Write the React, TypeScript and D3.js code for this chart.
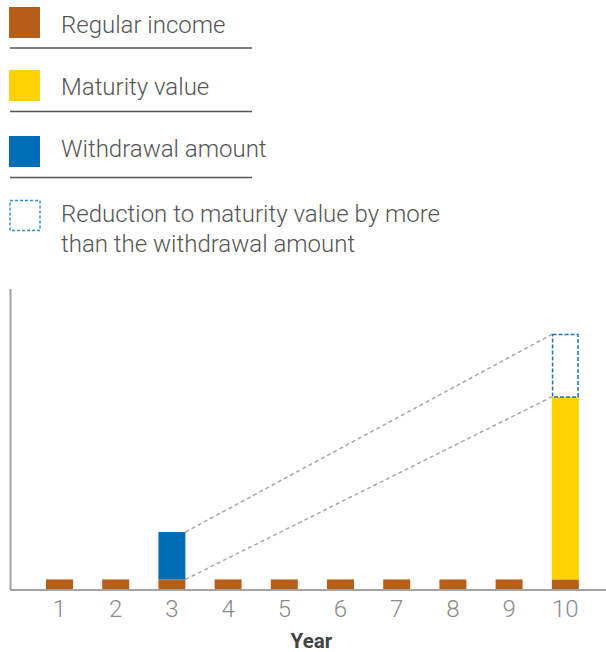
import React from "react";
import * as d3 from "d3";

const W = 606;
const H = 652;

// chart data
const years = ["1", "2", "3", "4", "5", "6", "7", "8", "9", "10"];
const regularIncome = [1, 1, 1, 1, 1, 1, 1, 1, 1, 1];
const withdrawal = [0, 0, 4.7, 0, 0, 0, 0, 0, 0, 0];
const maturityValue = [0, 0, 0, 0, 0, 0, 0, 0, 0, 18.1];
const reduction = [0, 0, 0, 0, 0, 0, 0, 0, 0, 6.2];

const legendItems = [
  { label: ["Regular income"], color: "#B55E18", dashed: false },
  { label: ["Maturity value"], color: "#FFD200", dashed: false },
  { label: ["Withdrawal amount"], color: "#006EB6", dashed: false },
  {
    label: ["Reduction to maturity value by more", "than the withdrawal amount"],
    color: "#3b8fd0",
    dashed: true,
  },
];

const COLORS = {
  income: "#B55E18",
  maturity: "#FFD200",
  withdrawal: "#006EB6",
  reduction: "#1a74bd",
  guide: "#a8a8a8",
  axis: "#a3a3a3",
  text: "#555555",
  tick: "#8a8a8a",
};

const font = "Roboto, 'Noto Sans', sans-serif";

// legend layout: square top, text baseline, separator
const legendRows = [
  { top: 7, base: 33, sep: 48 },
  { top: 70, base: 95, sep: 111.5 },
  { top: 136, base: 157, sep: 177.5 },
  { top: 200, base: 221.5, sep: null },
];

const App = () => {
  const x = d3
    .scaleBand()
    .domain(years)
    .range([31.4, 593.4])
    .paddingInner(0.52)
    .paddingOuter(0.26);
  const y = d3.scaleLinear().domain([0, 30]).range([589.5, 287]);
  const bw = x.bandwidth();

  // stacked tops
  const stack = years.map((yr, i) => {
    const a = regularIncome[i];
    const b = a + withdrawal[i];
    const c = a + maturityValue[i];
    const d = c + reduction[i];
    return { yr, a, b, c, d };
  });

  const wIdx = withdrawal.findIndex((v) => v > 0);
  const mIdx = maturityValue.findIndex((v) => v > 0);
  const ws = stack[wIdx];
  const ms = stack[mIdx];

  return (
    <div style={{ position: "absolute", left: 0, top: 0 }}>
      <svg width={W} height={H} style={{ display: "block", fontFamily: font }}>
        <rect width={W} height={H} fill="#fff" />
        {/* legend */}
        <g className="legend">
          {legendItems.map((item, i) => {
            const row = legendRows[i];
            return (
              <g key={i}>
                {item.dashed ? (
                  <rect
                    x={10}
                    y={row.top + 0.5}
                    width={30}
                    height={30}
                    fill="none"
                    stroke={item.color}
                    strokeWidth={1.5}
                    strokeDasharray="3,2"
                  />
                ) : (
                  <rect x={9} y={row.top} width={31} height={31} fill={item.color} />
                )}
                {item.label.map((t, j) => (
                  <text
                    key={j}
                    x={61}
                    y={row.base + j * 30.5}
                    fontSize={24}
                    fontWeight={300}
                    fill={COLORS.text}
                  >
                    {t}
                  </text>
                ))}
                {row.sep !== null && (
                  <line
                    x1={10}
                    x2={252}
                    y1={row.sep}
                    y2={row.sep}
                    stroke="#555"
                    strokeWidth={1.5}
                  />
                )}
              </g>
            );
          })}
        </g>

        {/* guide lines from withdrawal to maturity */}
        <line
          x1={x(ws.yr)! + bw}
          y1={y(ws.b)}
          x2={x(ms.yr)!}
          y2={y(ms.d)}
          stroke={COLORS.guide}
          strokeWidth={1.5}
          strokeDasharray="4,3"
        />
        <line
          x1={x(ws.yr)! + bw}
          y1={y(ws.a)}
          x2={x(ms.yr)!}
          y2={y(ms.c)}
          stroke={COLORS.guide}
          strokeWidth={1.5}
          strokeDasharray="4,3"
        />

        {/* bars */}
        {stack.map((s) => (
          <g key={s.yr}>
            <rect x={x(s.yr)} y={y(s.a)} width={bw} height={y(0) - y(s.a)} fill={COLORS.income} />
            {s.b > s.a && (
              <rect x={x(s.yr)} y={y(s.b)} width={bw} height={y(s.a) - y(s.b)} fill={COLORS.withdrawal} />
            )}
            {s.c > s.a && (
              <rect x={x(s.yr)} y={y(s.c)} width={bw} height={y(s.a) - y(s.c)} fill={COLORS.maturity} />
            )}
            {s.d > s.c && (
              <rect
                x={x(s.yr)! + 0.75}
                y={y(s.d)}
                width={bw - 1.5}
                height={y(s.c) - y(s.d)}
                fill="none"
                stroke={COLORS.reduction}
                strokeWidth={1.5}
                strokeDasharray="4,2"
              />
            )}
          </g>
        ))}

        {/* axes */}
        <line x1={10.5} x2={10.5} y1={289} y2={590} stroke={COLORS.axis} strokeWidth={2} />
        <line x1={10} x2={W} y1={590} y2={590} stroke={COLORS.axis} strokeWidth={2} />
        {years.map((yr) => (
          <text
            key={yr}
            x={x(yr)! + bw / 2}
            y={617}
            textAnchor="middle"
            fontSize={24}
            fontWeight={300}
            fill={COLORS.tick}
          >
            {yr}
          </text>
        ))}
        <text
          x={x.range()[0] + (x.range()[1] - x.range()[0]) / 2 - 1}
          y={647.5}
          textAnchor="middle"
          fontSize={20.5}
          fontWeight={700}
          fill="#444"
        >
          Year
        </text>
      </svg>
    </div>
  );
};

export default App;
